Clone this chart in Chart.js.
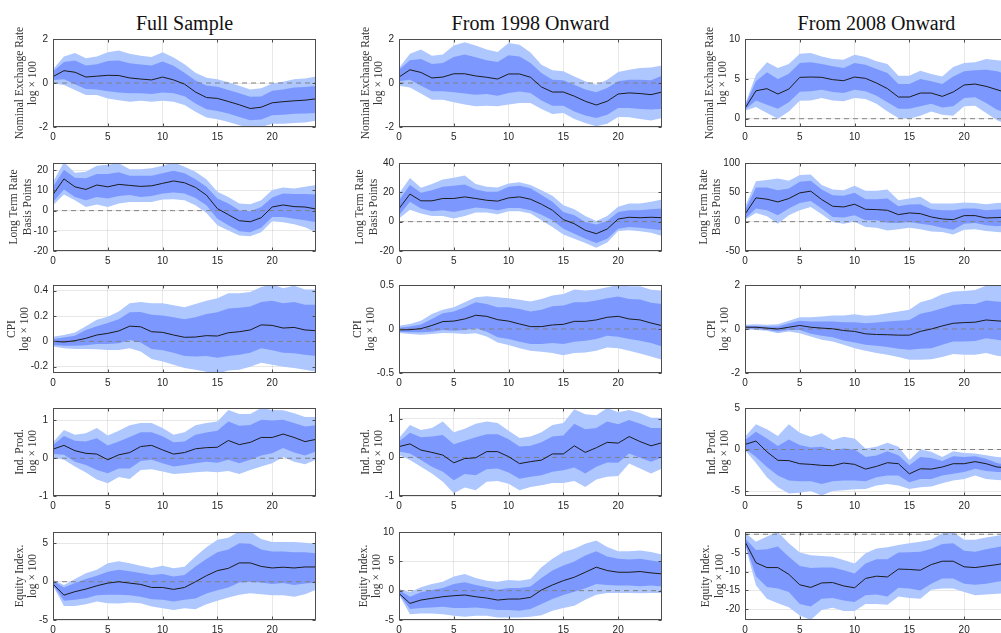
<!DOCTYPE html>
<html>
<head>
<meta charset="utf-8">
<title>Impulse responses</title>
<script src="https://cdn.jsdelivr.net/npm/chart.js@4.4.1/dist/chart.umd.min.js"></script>
<style>
  html, body { margin: 0; padding: 0; background: #fff; overflow: hidden; width: 1001px; height: 633px; }
  .coltitle { position: absolute; top: 11px; width: 263px; text-align: center;
              font-family: "Liberation Serif", serif; font-size: 20px; line-height: 24px; color: #111; }
</style>
</head>
<body>
<div class="coltitle" style="left:53px">Full Sample</div>
<div class="coltitle" style="left:399px">From 1998 Onward</div>
<div class="coltitle" style="left:745px">From 2008 Onward</div>
<script>
// horizon (months) and axis ticks
const horizon = [0,1,2,3,4,5,6,7,8,9,10,11,12,13,14,15,16,17,18,19,20,21,22,23,24];
const zeros   = [0,0,0,0,0,0,0,0,0,0,0,0,0,0,0,0,0,0,0,0,0,0,0,0,0];
const xTicks  = [0,5,10,15,20];

const rowLabels = [
  ["Nominal Exchange Rate", "log \u00d7 100"],
  ["Long Term Rate", "Basis Points"],
  ["CPI", "log \u00d7 100"],
  ["Ind. Prod.", "log \u00d7 100"],
  ["Equity Index.", "log \u00d7 100"]
];

// ---- Full sample ----
const nerFull_med   = [0.29,0.56,0.49,0.27,0.31,0.35,0.34,0.23,0.18,0.14,0.27,0.14,-0.05,-0.41,-0.66,-0.70,-0.84,-0.99,-1.16,-1.10,-0.90,-0.85,-0.81,-0.78,-0.72];
const nerFull_inHi  = [0.52,0.95,1.02,0.79,0.85,1.0,1.02,0.9,0.84,0.79,0.98,0.78,0.47,0.11,-0.11,-0.17,-0.32,-0.47,-0.63,-0.61,-0.35,-0.29,-0.21,-0.18,-0.14];
const nerFull_inLo  = [0.14,0.17,-0.06,-0.27,-0.29,-0.38,-0.43,-0.47,-0.47,-0.5,-0.43,-0.47,-0.6,-0.93,-1.19,-1.27,-1.39,-1.54,-1.69,-1.66,-1.47,-1.44,-1.40,-1.39,-1.36];
const nerFull_outHi = [0.63,1.21,1.36,1.13,1.21,1.4,1.48,1.33,1.24,1.18,1.4,1.16,0.85,0.47,0.24,0.17,0.03,-0.12,-0.29,-0.24,-0.02,0.06,0.17,0.21,0.29];
const nerFull_outLo = [-0.02,-0.09,-0.32,-0.55,-0.55,-0.7,-0.78,-0.85,-0.81,-0.85,-0.81,-0.85,-1.0,-1.31,-1.57,-1.65,-1.77,-1.92,-2.03,-2.0,-1.85,-1.85,-1.82,-1.79,-1.72];

const ltrFull_med   = [8,15.7,11.8,10.5,12.7,11.8,13,12.5,12,12.3,13.5,14.7,13.8,11.5,7.7,1,-2,-5,-5.5,-3.5,1.8,2.8,2,1.8,0.8];
const ltrFull_inHi  = [11.8,20.2,16.3,16,18.2,18.2,19,17.3,17.3,17.3,18.5,19.8,18.5,15.5,11.8,6,3.5,0.2,-0.3,1.8,6.5,8.5,8.2,8.2,8];
const ltrFull_inLo  = [4.3,10.5,6.8,5.2,6.8,6,7.2,7.7,6.8,7.2,8.5,9,8.5,6.3,2.7,-4,-7.3,-10.2,-10.7,-8.5,-3.2,-3.2,-4,-4.8,-5.7];
const ltrFull_outHi = [14.3,24,18.8,19.3,22.2,22.7,23.5,20.5,20.5,21,22.2,24,21.8,19.3,15.5,9.3,6.8,3.5,3.2,5.2,10.2,11.5,11,11.8,12.7];
const ltrFull_outLo = [2.7,8,5.2,1.8,3,1.8,3.5,4.3,4.3,4.3,5.5,5.7,5.2,2.7,-1.2,-7.3,-9.8,-12.3,-12.7,-10.7,-5.3,-5.7,-6.8,-8.2,-10.7];

const cpiFull_med   = [0,-0.005,0.005,0.024,0.05,0.063,0.082,0.12,0.115,0.076,0.071,0.05,0.032,0.034,0.045,0.042,0.068,0.076,0.09,0.13,0.126,0.105,0.11,0.09,0.084];
const cpiFull_inHi  = [0.018,0.03,0.045,0.09,0.12,0.145,0.175,0.23,0.232,0.21,0.205,0.19,0.175,0.19,0.215,0.23,0.26,0.265,0.275,0.31,0.32,0.3,0.31,0.29,0.29];
const cpiFull_inLo  = [-0.028,-0.035,-0.035,-0.03,-0.02,-0.02,-0.016,0.01,-0.01,-0.06,-0.07,-0.09,-0.115,-0.12,-0.115,-0.13,-0.115,-0.105,-0.09,-0.055,-0.07,-0.09,-0.095,-0.105,-0.115];
const cpiFull_outHi = [0.037,0.05,0.07,0.12,0.17,0.195,0.235,0.3,0.31,0.3,0.3,0.285,0.27,0.295,0.32,0.34,0.38,0.38,0.39,0.43,0.45,0.42,0.44,0.41,0.41];
const cpiFull_outLo = [-0.04,-0.055,-0.06,-0.06,-0.063,-0.068,-0.068,-0.055,-0.08,-0.14,-0.16,-0.185,-0.21,-0.225,-0.24,-0.255,-0.23,-0.225,-0.2,-0.17,-0.185,-0.2,-0.21,-0.225,-0.24];

const ipFull_med    = [0.24,0.34,0.2,0.13,0.11,-0.04,0.09,0.15,0.31,0.34,0.22,0.11,0.15,0.25,0.28,0.29,0.47,0.36,0.42,0.55,0.55,0.64,0.55,0.44,0.5];
const ipFull_inHi   = [0.35,0.59,0.46,0.44,0.53,0.34,0.44,0.56,0.69,0.69,0.58,0.42,0.44,0.62,0.68,0.73,0.97,0.86,0.88,1.02,1.0,1.02,0.93,0.84,0.87];
const ipFull_inLo   = [0.11,0.09,-0.09,-0.18,-0.31,-0.4,-0.27,-0.27,-0.07,-0.04,-0.13,-0.22,-0.18,-0.13,-0.09,-0.12,-0.04,-0.13,-0.04,0.07,0.13,0.27,0.15,0.07,0.18];
const ipFull_outHi  = [0.42,0.75,0.62,0.66,0.8,0.6,0.73,0.87,0.93,0.93,0.8,0.62,0.69,0.87,0.93,0.97,1.28,1.17,1.17,1.33,1.28,1.27,1.19,1.09,1.09];
const ipFull_outLo  = [0.02,-0.04,-0.22,-0.38,-0.56,-0.66,-0.5,-0.55,-0.31,-0.29,-0.35,-0.42,-0.4,-0.37,-0.35,-0.37,-0.34,-0.42,-0.31,-0.22,-0.13,0.03,-0.09,-0.16,-0.04];

const eqFull_med    = [-0.3,-1.75,-1.3,-0.96,-0.53,-0.18,0,-0.18,-0.35,-0.75,-0.75,-1.0,-0.75,0,0.79,1.45,1.75,2.46,2.46,2.0,1.8,1.9,1.8,1.93,1.93];
const eqFull_inHi   = [0.13,-0.75,-0.18,0.35,0.79,1.3,1.58,1.36,1.14,0.88,1.0,0.7,0.88,2.0,2.97,3.85,4.2,5.04,4.95,4.2,3.95,3.95,3.85,3.85,3.73];
const eqFull_inLo   = [-0.44,-2.5,-2.37,-2.15,-1.75,-1.7,-1.7,-1.75,-1.97,-2.28,-2.37,-2.59,-2.37,-2.19,-1.54,-1.1,-0.75,-0.09,0,-0.09,-0.3,-0.18,-0.44,-0.22,-0.09];
const eqFull_outHi  = [0.26,-0.44,0.35,1.1,1.58,2.41,2.68,2.41,2.1,1.8,2.1,1.75,1.97,3.3,4.5,5.48,5.75,6.6,6.6,5.6,5.2,5.2,5.2,5.1,4.95];
const eqFull_outLo  = [-0.53,-3.16,-3.16,-2.94,-2.59,-2.8,-2.85,-2.72,-2.8,-3.25,-3.46,-3.68,-3.46,-3.6,-2.94,-2.5,-2.06,-1.7,-1.5,-1.62,-1.75,-1.75,-1.97,-1.62,-1.05];

// ---- From 1998 onward ----
const ner98_med   = [0.27,0.6,0.48,0.23,0.27,0.42,0.42,0.32,0.26,0.18,0.41,0.41,0.26,-0.18,-0.41,-0.41,-0.6,-0.83,-1.0,-0.83,-0.5,-0.45,-0.48,-0.53,-0.41];
const ner98_inHi  = [0.6,1.03,1.09,0.86,0.91,1.18,1.29,1.17,1.03,0.95,1.26,1.21,0.91,0.45,0.15,0.12,-0.08,-0.3,-0.42,-0.23,0.08,0.15,0.15,0.12,0.33];
const ner98_inLo  = [0.08,0.15,-0.12,-0.38,-0.38,-0.42,-0.48,-0.53,-0.5,-0.58,-0.45,-0.39,-0.45,-0.79,-1.03,-1.03,-1.29,-1.48,-1.59,-1.44,-1.14,-1.14,-1.18,-1.21,-1.17];
const ner98_outHi = [0.68,1.33,1.52,1.24,1.29,1.7,1.85,1.7,1.52,1.41,1.82,1.74,1.39,0.83,0.58,0.53,0.3,0.08,-0.08,0.15,0.5,0.6,0.68,0.71,0.79];
const ner98_outLo = [-0.12,-0.2,-0.48,-0.76,-0.76,-0.88,-0.98,-1.06,-1.03,-1.06,-0.98,-0.91,-0.91,-1.18,-1.41,-1.36,-1.64,-1.82,-1.97,-1.85,-1.55,-1.56,-1.64,-1.7,-1.59];

const ltr98_med   = [8.9,18.8,14.2,14.2,15.8,15.8,16.9,15.8,14.6,14,16.2,16.9,15.3,11.9,7.8,1.4,-1.4,-5.9,-8.2,-5,1.8,3,2.7,3,2.7];
const ltr98_inHi  = [14.6,25,19.7,21.5,23.8,24.5,25.4,22,20.4,20.4,23.8,24.5,22.7,18.1,13.5,6.6,4.3,-0.2,-2,0.5,6.6,7.8,7.8,8.5,8.9];
const ltr98_inLo  = [4.3,13.5,8.9,7.1,7.8,6.6,8.2,9.6,8.9,7.8,9.4,9.4,7.8,4.8,0.9,-4.8,-8.2,-11.7,-14.6,-11.7,-4.8,-3.7,-4.1,-5,-5.9];
const ltr98_outHi = [19.2,29.7,23.1,25.6,28.8,30,31.4,25.6,23.8,23.3,26.1,26.8,25,21.5,17.6,11.2,8.5,3.9,0.5,3.9,10.1,12.4,12.4,13.5,15.1];
const ltr98_outLo = [2.1,8.2,5.5,3.9,3.9,2.1,3.9,6.2,6.2,5,7.1,7.1,5.5,0.9,-3.7,-8.7,-11.7,-14.6,-17.8,-14.2,-6.4,-5.9,-6.6,-7.6,-9.8];

const cpi98_med   = [-0.01,-0.008,0.004,0.04,0.084,0.09,0.114,0.156,0.144,0.106,0.09,0.057,0.027,0.027,0.046,0.053,0.087,0.087,0.103,0.133,0.144,0.114,0.103,0.068,0.038];
const cpi98_inHi  = [0.015,0.027,0.05,0.114,0.179,0.2,0.247,0.304,0.285,0.247,0.247,0.228,0.198,0.22,0.258,0.266,0.304,0.304,0.323,0.35,0.369,0.342,0.335,0.297,0.285];
const cpi98_inLo  = [-0.03,-0.038,-0.038,-0.03,-0.011,-0.019,-0.011,0.008,-0.03,-0.095,-0.114,-0.144,-0.171,-0.171,-0.16,-0.171,-0.144,-0.133,-0.114,-0.076,-0.087,-0.114,-0.133,-0.16,-0.198];
const cpi98_outHi = [0.038,0.057,0.095,0.171,0.22,0.247,0.304,0.361,0.372,0.361,0.35,0.331,0.312,0.342,0.38,0.399,0.449,0.437,0.449,0.475,0.5,0.487,0.487,0.445,0.437];
const cpi98_outLo = [-0.046,-0.057,-0.065,-0.057,-0.046,-0.049,-0.057,-0.049,-0.084,-0.152,-0.183,-0.22,-0.247,-0.259,-0.274,-0.297,-0.274,-0.266,-0.247,-0.209,-0.22,-0.247,-0.278,-0.312,-0.35];

const ip98_med    = [0.28,0.35,0.19,0.13,0.06,-0.14,-0.03,-0.01,0.15,0.15,0.02,-0.16,-0.11,-0.07,0.09,0.09,0.3,0.13,0.25,0.39,0.37,0.54,0.41,0.3,0.38];
const ip98_inHi   = [0.41,0.64,0.52,0.54,0.58,0.34,0.43,0.52,0.6,0.6,0.47,0.28,0.3,0.39,0.54,0.57,0.87,0.73,0.76,0.93,0.86,0.97,0.87,0.76,0.76];
const ip98_inLo   = [0.15,0.1,-0.07,-0.24,-0.37,-0.59,-0.43,-0.46,-0.31,-0.29,-0.39,-0.55,-0.5,-0.46,-0.37,-0.33,-0.26,-0.42,-0.24,-0.13,-0.14,0.1,-0.01,-0.11,0];
const ip98_outHi  = [0.5,0.84,0.71,0.76,0.93,0.65,0.74,0.87,0.93,0.89,0.69,0.5,0.54,0.65,0.84,0.89,1.25,1.12,1.09,1.28,1.17,1.23,1.15,1.03,1.03];
const ip98_outLo  = [0.06,-0.07,-0.24,-0.42,-0.63,-0.93,-0.78,-0.85,-0.63,-0.61,-0.68,-0.85,-0.77,-0.72,-0.66,-0.66,-0.61,-0.77,-0.57,-0.5,-0.48,-0.16,-0.29,-0.42,-0.29];

const eq98_med    = [-0.46,-2.17,-1.6,-1.31,-1.03,-0.86,-0.74,-1.03,-1.26,-1.6,-1.43,-1.43,-1.14,0.11,0.97,1.71,2.29,3.14,4.0,3.43,3.14,3.14,3.26,3.03,2.86];
const eq98_inHi   = [0.11,-1.03,-0.29,0.11,0.46,1.14,1.43,0.97,0.57,0.17,0.46,0.46,0.69,2.17,3.43,4.29,4.97,6.0,6.74,5.83,5.43,5.31,5.43,5.14,4.86];
const eq98_inLo   = [-0.57,-3.14,-2.97,-2.86,-2.74,-2.97,-2.97,-2.86,-3.03,-3.31,-3.31,-3.43,-3.14,-2.29,-1.43,-0.74,-0.17,0.4,1.14,0.97,0.86,0.86,0.74,0.86,0.69];
const eq98_outHi  = [0.29,-0.29,0.57,1.14,1.54,2.4,2.86,2.17,1.71,1.54,1.83,1.71,2.0,4.0,5.43,6.57,7.14,8.0,8.57,7.43,6.74,6.74,6.86,6.57,6.17];
const eq98_outLo  = [-0.69,-4.0,-3.89,-3.89,-4.0,-4.29,-4.46,-4.29,-4.29,-4.57,-4.57,-4.57,-4.46,-4.17,-3.43,-2.97,-2.57,-1.54,-0.69,-0.4,-0.4,-0.4,-0.46,-0.4,-0.4];

// ---- From 2008 onward ----
const ner08_med   = [1.3,3.5,3.77,3.1,3.72,5.19,5.23,5.19,4.9,4.77,5.23,5.06,4.48,3.77,2.72,2.72,3.22,3.22,2.8,3.35,4.23,4.35,4.06,3.64,3.2];
const ner08_inHi  = [1.63,4.69,5.82,4.98,5.65,6.99,7.07,6.86,6.57,6.36,6.99,6.78,6.23,5.73,4.35,4.35,4.98,4.69,4.35,5.31,5.94,6.07,6.15,5.94,5.52];
const ner08_inLo  = [1.13,2.3,1.76,1.26,2.05,3.39,3.43,3.64,3.35,3.22,3.64,3.43,2.89,2.05,1.26,1.26,1.55,1.88,1.42,1.55,2.59,2.68,1.97,1.13,0.7];
const ner08_outHi = [1.76,5.52,7.07,6.36,6.86,8.16,8.24,7.82,7.49,7.41,8.03,7.74,7.2,6.86,5.4,5.4,6.02,5.61,5.31,6.49,6.99,7.07,7.49,7.32,7.2];
const ner08_outLo = [1.0,1.46,0.71,0,0.92,2.26,2.3,2.59,2.3,2.18,2.59,2.47,1.88,0.92,0.08,0,0.38,0.92,0.5,0.38,1.55,1.63,0.71,-0.2,-0.75];

const ltr08_med   = [12.6,40.6,38.3,33.7,39.4,49.1,52,37.7,26.3,25.1,29.7,21.1,20.6,19.4,12,14.9,13.7,8,4.6,3.4,10.3,10.3,6.3,6.9,8];
const ltr08_inHi  = [19.4,58.3,58.3,53.7,56.6,68,69.7,54.9,45.1,44,49.1,38.3,38.3,39.4,26.3,29.1,29.7,21.1,19.4,19.4,22.3,22.3,19.4,20.6,21.1];
const ltr08_inLo  = [5.1,22.3,19.4,10.9,22.3,32,35.4,22.3,8,6.9,10.9,2.3,2.3,-1.7,-2.3,-0.6,-3.4,-6.3,-10.3,-13.7,-3.4,-2.3,-6.3,-8,-6.3];
const ltr08_outHi = [25.1,69.1,70.9,73.7,69.7,79.4,80.6,62.3,54.9,53.7,61.1,52.6,52.6,54.9,36.6,39.4,42.3,30.9,30.9,30.9,32.6,32,29.7,32,32.6];
const ltr08_outLo = [3.4,14.9,9.1,-3.4,10.9,19.4,25.1,12.6,-0.6,-3.4,0,-9.1,-10.3,-14.9,-13.1,-10.3,-13.1,-16.6,-17.7,-21.7,-13.7,-13.1,-16,-17.7,-18.9];

const cpi08_med   = [0.08,0.08,0.04,0,0.08,0.16,0.08,0.04,0.01,-0.07,-0.11,-0.22,-0.25,-0.26,-0.28,-0.28,-0.11,0,0.14,0.26,0.29,0.31,0.41,0.37,0.34];
const cpi08_inHi  = [0.14,0.14,0.11,0.11,0.26,0.38,0.34,0.34,0.34,0.31,0.31,0.26,0.29,0.34,0.37,0.41,0.69,0.79,0.94,1.09,1.14,1.14,1.29,1.25,1.2];
const cpi08_inLo  = [0.02,0.01,-0.04,-0.11,-0.04,-0.04,-0.22,-0.31,-0.38,-0.52,-0.61,-0.72,-0.76,-0.82,-0.9,-0.94,-0.9,-0.87,-0.72,-0.57,-0.57,-0.54,-0.42,-0.49,-0.57];
const cpi08_outHi = [0.19,0.22,0.19,0.22,0.38,0.53,0.53,0.57,0.61,0.61,0.67,0.6,0.64,0.72,0.79,0.87,1.22,1.35,1.58,1.7,1.73,1.77,1.97,2.0,2.0];
const cpi08_outLo = [0,-0.04,-0.08,-0.19,-0.11,-0.19,-0.34,-0.49,-0.57,-0.72,-0.87,-0.99,-1.09,-1.17,-1.27,-1.4,-1.4,-1.37,-1.27,-1.14,-1.17,-1.17,-1.09,-1.22,-1.27];

const ip08_med    = [0.61,1.02,-0.28,-1.3,-1.34,-1.71,-1.79,-1.91,-1.95,-1.63,-1.79,-2.36,-2.03,-1.59,-1.71,-2.93,-2.32,-2.36,-2.11,-1.71,-1.71,-1.46,-1.71,-2.11,-2.2];
const ip08_inHi   = [1.14,2.15,1.34,0.41,1.22,0.53,0.24,0.33,-0.08,0.12,0,-0.89,-0.73,-0.2,-0.69,-1.91,-0.89,-1.02,-1.38,-0.81,-0.89,-0.81,-1.1,-1.63,-1.91];
const ip08_inLo   = [0.12,-0.89,-2.11,-3.13,-3.74,-3.82,-3.82,-4.15,-3.82,-3.74,-3.74,-3.82,-3.33,-3.13,-3.13,-3.94,-3.54,-3.54,-3.13,-2.93,-2.72,-2.32,-2.6,-2.72,-2.72];
const ip08_outHi  = [1.54,3.05,2.44,1.63,3.05,2.03,1.54,1.95,1.14,1.54,1.34,0.12,0.33,0.81,0.33,-1.3,0,-0.28,-0.89,-0.2,-0.41,-0.49,-0.69,-0.89,-0.98];
const ip08_outLo  = [-0.08,-1.63,-3.33,-4.55,-5.3,-5.2,-5.0,-5.55,-5.0,-4.9,-4.8,-4.76,-4.35,-4.15,-4.35,-4.76,-4.55,-4.47,-4.07,-3.74,-3.54,-3.13,-3.54,-3.66,-3.74];

const eq08_med    = [-1.97,-7.6,-8.9,-8.9,-10.7,-13.5,-14.2,-13.0,-12.9,-13.8,-14.3,-11.8,-11.2,-11.4,-9.3,-9.4,-9.6,-8.1,-7.2,-7.2,-8.7,-8.9,-8.5,-8.1,-7.6];
const eq08_inHi   = [-1.1,-4.2,-4.0,-3.3,-6.0,-8.5,-9.0,-8.9,-8.9,-9.6,-10.5,-7.8,-6.7,-6.7,-4.9,-4.8,-4.7,-3.9,-2.6,-2.4,-4.4,-4.7,-4.0,-3.5,-2.9];
const eq08_inLo   = [-2.4,-11.2,-14.1,-14.5,-15.4,-18.6,-19.3,-17.2,-17.0,-17.7,-18.1,-16.3,-16.1,-16.6,-14.3,-14.5,-15.0,-13.2,-11.8,-11.8,-13.2,-13.5,-13.2,-12.7,-12.3];
const eq08_outHi  = [0.45,-2.0,-0.6,0.6,-2.4,-4.9,-5.6,-5.8,-6.0,-6.9,-7.8,-5.1,-3.8,-3.5,-2.9,-2.4,-2.0,-1.5,0.27,0.6,-1.5,-1.5,-0.9,-0.4,0.1];
const eq08_outLo  = [-2.9,-13.6,-17.2,-18.4,-19.5,-21.7,-22.9,-20.2,-19.6,-20.5,-20.5,-18.6,-18.6,-18.8,-16.6,-17.0,-17.2,-14.8,-14.5,-14.5,-15.4,-16.3,-16.1,-15.9,-15.7];

// panels: row, col, series, y limits and y ticks
const panels = [
  {row:0, col:0, s:[nerFull_med, nerFull_inHi, nerFull_inLo, nerFull_outHi, nerFull_outLo], yMin:-2, yMax:2, yTicks:[-2,0,2]},
  {row:1, col:0, s:[ltrFull_med, ltrFull_inHi, ltrFull_inLo, ltrFull_outHi, ltrFull_outLo], yMin:-20, yMax:23.6, yTicks:[-20,-10,0,10,20]},
  {row:2, col:0, s:[cpiFull_med, cpiFull_inHi, cpiFull_inLo, cpiFull_outHi, cpiFull_outLo], yMin:-0.25, yMax:0.445, yTicks:[-0.2,0,0.2,0.4]},
  {row:3, col:0, s:[ipFull_med, ipFull_inHi, ipFull_inLo, ipFull_outHi, ipFull_outLo], yMin:-1, yMax:1.33, yTicks:[-1,0,1]},
  {row:4, col:0, s:[eqFull_med, eqFull_inHi, eqFull_inLo, eqFull_outHi, eqFull_outLo], yMin:-5, yMax:6.5, yTicks:[-5,0,5]},
  {row:0, col:1, s:[ner98_med, ner98_inHi, ner98_inLo, ner98_outHi, ner98_outLo], yMin:-2, yMax:2, yTicks:[-2,0,2]},
  {row:1, col:1, s:[ltr98_med, ltr98_inHi, ltr98_inLo, ltr98_outHi, ltr98_outLo], yMin:-20, yMax:40, yTicks:[-20,0,20,40]},
  {row:2, col:1, s:[cpi98_med, cpi98_inHi, cpi98_inLo, cpi98_outHi, cpi98_outLo], yMin:-0.5, yMax:0.5, yTicks:[-0.5,0,0.5]},
  {row:3, col:1, s:[ip98_med, ip98_inHi, ip98_inLo, ip98_outHi, ip98_outLo], yMin:-1, yMax:1.28, yTicks:[-1,0,1]},
  {row:4, col:1, s:[eq98_med, eq98_inHi, eq98_inLo, eq98_outHi, eq98_outLo], yMin:-5, yMax:10, yTicks:[-5,0,5,10]},
  {row:0, col:2, s:[ner08_med, ner08_inHi, ner08_inLo, ner08_outHi, ner08_outLo], yMin:-1.04, yMax:10, yTicks:[0,5,10]},
  {row:1, col:2, s:[ltr08_med, ltr08_inHi, ltr08_inLo, ltr08_outHi, ltr08_outLo], yMin:-50, yMax:100, yTicks:[-50,0,50,100]},
  {row:2, col:2, s:[cpi08_med, cpi08_inHi, cpi08_inLo, cpi08_outHi, cpi08_outLo], yMin:-2, yMax:2, yTicks:[-2,0,2]},
  {row:3, col:2, s:[ip08_med, ip08_inHi, ip08_inLo, ip08_outHi, ip08_outLo], yMin:-5.6, yMax:5, yTicks:[-5,0,5]},
  {row:4, col:2, s:[eq08_med, eq08_inHi, eq08_inLo, eq08_outHi, eq08_outLo], yMin:-22.9, yMax:0.6, yTicks:[-20,-15,-10,-5,0]}
];

// layout (pixels)
const colLeft = [53, 399, 745];
const rowTop  = [39, 163, 285, 408, 532];
const plotW = 263, plotH = 88;
const padL = 53, padT = 20, padR = 10, padB = 24;

const bandOuter = "rgb(174,199,255)";
const bandInner = "rgb(124,152,255)";
const gridColor = "rgba(0,0,0,0.09)";
const tickColor = "#262626";
const titleSize = 11.5, titleLH = titleSize * 1.15;

function pts(arr) { return horizon.map((h, i) => ({x: h, y: arr[i]})); }

// axes box with inward tick marks, like the original
const boxPlugin = {
  id: "box",
  afterDatasetsDraw(chart) {
    const {ctx, chartArea: a, scales} = chart;
    const l = Math.round(a.left) + 0.5, r = Math.round(a.right) - 0.5;
    const t = Math.round(a.top) + 0.5, b = Math.round(a.bottom) - 0.5;
    ctx.save();
    ctx.strokeStyle = "#4d4d4d";
    ctx.lineWidth = 1;
    ctx.beginPath();
    scales.x.ticks.forEach(tk => {
      const px = Math.round(scales.x.getPixelForValue(tk.value)) + 0.5;
      ctx.moveTo(px, b); ctx.lineTo(px, b - 3);
      ctx.moveTo(px, t); ctx.lineTo(px, t + 3);
    });
    scales.y.ticks.forEach(tk => {
      const py = Math.round(scales.y.getPixelForValue(tk.value)) + 0.5;
      ctx.moveTo(l, py); ctx.lineTo(l + 3, py);
      ctx.moveTo(r, py); ctx.lineTo(r - 3, py);
    });
    ctx.stroke();
    ctx.strokeRect(l, t, r - l, b - t);
    ctx.restore();
  }
};

const mctx = document.createElement("canvas").getContext("2d");
mctx.font = '10px "Liberation Sans"';

panels.forEach(p => {
  const cv = document.createElement("canvas");
  cv.width = padL + plotW + padR;
  cv.height = padT + plotH + padB;
  cv.style.position = "absolute";
  cv.style.left = (colLeft[p.col] - padL) + "px";
  cv.style.top = (rowTop[p.row] - padT) + "px";
  cv.style.width = cv.width + "px";
  cv.style.height = cv.height + "px";
  document.body.appendChild(cv);

  // ylabel sits further left when tick labels are wider
  const lw = Math.max(...p.yTicks.map(v => mctx.measureText(String(v)).width));
  const titlePad = Math.max(0, padL - (lw + 11) - 1.5 * titleLH);

  const [med, inHi, inLo, outHi, outLo] = p.s;
  const none = "rgba(0,0,0,0)";

  new Chart(cv, {
    type: "line",
    data: {
      datasets: [
        {data: pts(med), borderColor: "#1c1c1c", borderWidth: 1, pointRadius: 0, fill: false},
        {data: pts(zeros), borderColor: "#808080", borderWidth: 1, borderDash: [5, 4], pointRadius: 0, fill: false},
        {data: pts(inHi), borderColor: none, borderWidth: 0, pointRadius: 0, backgroundColor: bandInner, fill: 3},
        {data: pts(inLo), borderColor: none, borderWidth: 0, pointRadius: 0, fill: false},
        {data: pts(outHi), borderColor: none, borderWidth: 0, pointRadius: 0, backgroundColor: bandOuter, fill: 5},
        {data: pts(outLo), borderColor: none, borderWidth: 0, pointRadius: 0, fill: false}
      ]
    },
    options: {
      responsive: false,
      animation: false,
      events: [],
      layout: {padding: {left: 0, top: padT, right: padR, bottom: 0}},
      plugins: {legend: {display: false}, tooltip: {enabled: false}},
      scales: {
        x: {
          type: "linear", min: 0, max: 24,
          afterBuildTicks: s => { s.ticks = xTicks.map(v => ({value: v})); },
          afterFit: s => { s.height = padB; },
          grid: {color: gridColor, drawTicks: false},
          border: {display: false},
          ticks: {padding: 4, color: tickColor, maxRotation: 0,
                  font: {family: "Liberation Sans", size: 10}, callback: v => String(v)}
        },
        y: {
          min: p.yMin, max: p.yMax,
          afterBuildTicks: s => { s.ticks = p.yTicks.map(v => ({value: v})); },
          afterFit: s => { s.width = padL; },
          grid: {color: gridColor, drawTicks: false},
          border: {display: false},
          ticks: {padding: 5, color: tickColor,
                  font: {family: "Liberation Sans", size: 10}, callback: v => String(v)},
          title: {
            display: true,
            text: rowLabels[p.row],
            color: "#333",
            font: {family: "Liberation Serif", size: titleSize, lineHeight: 1.15},
            padding: {top: titlePad, bottom: 0}
          }
        }
      }
    },
    plugins: [boxPlugin]
  });
});
</script>
</body>
</html>
